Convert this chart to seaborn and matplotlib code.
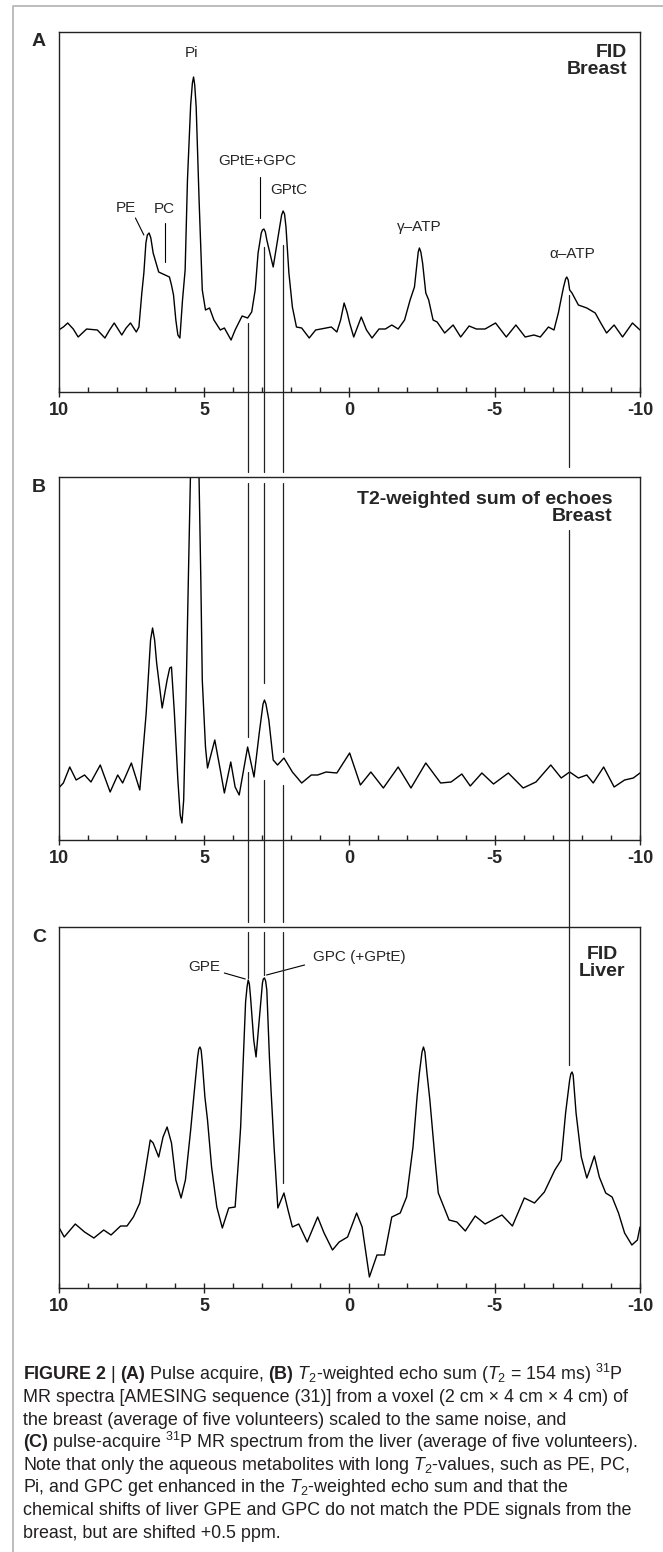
import matplotlib
matplotlib.use("Agg")
import matplotlib.pyplot as plt
import matplotlib.transforms as mtransforms
from matplotlib.ticker import MultipleLocator
import seaborn as sns

# --- spectra (ppm, intensity above baseline) ---
ppm_a = [10.0, 9.84, 9.69, 9.50, 9.33, 9.04, 8.67, 8.41, 8.25, 8.09, 7.83, 7.68, 7.53, 7.33,
         7.24, 7.14, 7.07, 7.00, 6.95, 6.89, 6.83, 6.75, 6.56, 6.34, 6.19, 6.12,
         6.05, 5.97, 5.90, 5.83, 5.74, 5.65, 5.57, 5.46, 5.40, 5.36, 5.32, 5.27,
         5.17, 5.06, 4.95, 4.81, 4.66, 4.44, 4.30, 4.07, 3.93, 3.69,
         3.50, 3.36, 3.24, 3.14, 3.03, 2.99, 2.94, 2.89, 2.84, 2.62, 2.47, 2.33, 2.28,
         2.23, 2.18, 2.08, 1.96, 1.82, 1.64, 1.38, 1.16, 0.80, 0.62, 0.43,
         0.30, 0.18, 0.08, -0.01, -0.15, -0.41, -0.59, -0.78, -1.02, -1.24, -1.46, -1.68,
         -1.90, -2.09, -2.24, -2.34, -2.37, -2.41, -2.46, -2.52, -2.63, -2.73, -2.88, -3.02,
         -3.28, -3.57, -3.83, -4.12, -4.37, -4.67, -5.03, -5.40, -5.73, -6.05,
         -6.35, -6.57, -6.85, -7.04, -7.19, -7.30, -7.37, -7.44, -7.48, -7.53, -7.58, -7.66,
         -7.88, -8.17, -8.46, -8.65, -8.85, -9.11, -9.40, -9.74, -10.0]
int_a = [0, 3, 7, 1, -7, 1, 0, -8, 0, 7, -5, 2, 7, -2,
         3, 37, 57, 87, 95, 97, 92, 77, 58, 55, 53, 45,
         35, 10, -5, -8, 30, 60, 150, 225, 247, 253, 245, 223,
         130, 40, 20, 22, 10, 0, 2, -10, 0, 14,
         12, 18, 40, 77, 97, 100, 101, 98, 90, 63, 90, 115, 119,
         116, 103, 57, 23, 3, 2, -8, 0, 2, 3, -2,
         10, 27, 18, 7, -7, 13, 0, -8, 1, 1, 5, 1,
         10, 30, 43, 70, 78, 82, 78, 67, 37, 30, 10, 8,
         -3, 5, -7, 4, 1, 1, 7, -7, 5, -7,
         -5, -7, 3, 0, 17, 33, 43, 51, 53, 50, 40, 37,
         25, 22, 17, 7, -3, 5, -7, 7, 0]

ppm_b = [10.0, 9.84, 9.62, 9.40, 9.11, 8.89, 8.57, 8.23, 7.97, 7.80,
         7.50, 7.21, 6.99, 6.84, 6.77, 6.70, 6.63, 6.44, 6.27, 6.18, 6.12, 6.02, 5.90,
         5.82, 5.76, 5.70, 5.62, 5.54, 5.47, 5.40, 5.32, 5.24, 5.17,
         5.11, 5.06, 4.95, 4.88, 4.63, 4.44, 4.30, 4.08, 3.93, 3.79,
         3.50, 3.28, 3.10, 2.97, 2.92, 2.87, 2.77, 2.62, 2.47, 2.25, 1.96, 1.64,
         1.31, 1.09, 0.80, 0.43, -0.01, -0.38, -0.74, -1.17, -1.68, -2.12,
         -2.63, -3.14, -3.50, -3.87, -4.16, -4.56, -4.96, -5.47, -5.98, -6.42,
         -6.93, -7.29, -7.58, -7.88, -8.17, -8.39, -8.75, -9.11, -9.47, -9.77, -10.0]
int_b = [-8, -3, 13, 0, 5, -2, 15, -12, 5, -3,
         17, -10, 67, 140, 152, 140, 117, 72, 100, 112, 113, 67, 0,
         -35, -43, -20, 80, 200, 300, 370, 400, 370, 300,
         200, 100, 33, 12, 40, 10, -13, 18, -7, -15,
         33, 3, 47, 76, 80, 76, 60, 20, 15, 22, 8, -3,
         5, 5, 8, 7, 27, -5, 8, -8, 13, -8,
         17, -3, -2, 6, -6, 7, -4, 7, -8, -2,
         15, 2, 8, 2, 5, -3, 13, -7, 0, 2, 7]

ppm_c = [10.0, 9.81, 9.43, 9.11, 8.79, 8.45, 8.20, 7.87, 7.65, 7.43,
         7.21, 7.07, 6.85, 6.75, 6.56, 6.41, 6.27, 6.12, 5.97, 5.79,
         5.64, 5.46, 5.32, 5.22, 5.18, 5.14, 5.10, 5.06, 4.97, 4.88, 4.74, 4.56,
         4.37, 4.15, 3.93, 3.82, 3.74, 3.66, 3.57, 3.52, 3.48, 3.44, 3.40, 3.29,
         3.21, 3.11, 2.99, 2.96, 2.92, 2.88, 2.84, 2.75, 2.70, 2.59, 2.46, 2.25,
         2.11, 1.96, 1.74, 1.45, 1.09, 0.87, 0.58, 0.35, 0.06, -0.25,
         -0.44, -0.69, -0.95, -1.21, -1.46, -1.75, -1.97, -2.19, -2.33, -2.41,
         -2.50, -2.55, -2.60, -2.67, -2.77, -2.96, -3.06, -3.43, -3.70, -3.99, -4.33, -4.67,
         -5.25, -5.61, -6.02, -6.37, -6.71, -7.07, -7.29, -7.44, -7.58, -7.62, -7.66, -7.70,
         -7.80, -7.98, -8.17, -8.27, -8.43, -8.60, -8.82, -9.04, -9.26, -9.47,
         -9.72, -9.91, -10.0]
int_c = [0, -10, 3, -5, -11, -3, -8, 1, 1, 10,
         24, 47, 87, 84, 70, 90, 100, 84, 47, 29,
         47, 97, 140, 170, 178, 180, 177, 165, 130, 107, 60, 20,
         -1, 19, 20, 64, 100, 160, 225, 240, 247, 243, 230, 187,
         170, 204, 244, 248, 249, 246, 237, 170, 140, 80, 19, 34,
         17, 0, 3, -15, 10, -6, -23, -15, -10, 14,
         0, -50, -28, -28, 10, 14, 30, 80, 130, 154,
         175, 180, 175, 154, 127, 64, 34, 7, 5, -4, 11, 3,
         12, 1, 29, 24, 35, 57, 67, 114, 147, 153, 155, 152,
         114, 70, 49, 57, 71, 50, 34, 30, 14, -6,
         -18, -13, 0]

tick_vals = [10, 5, 0, -5, -10]
tick_labels = ["10", "5", "0", "-5", "-10"]

# peak labels: (text, ppm, intensity)
labels_a = [("Pi", 5.44, 277), ("PE", 7.69, 122), ("PC", 6.37, 121),
            ("GPtE+GPC", 3.17, 169), ("GPtC", 2.10, 140),
            ("\u03b3\u2013ATP", -2.41, 103), ("\u03b1\u2013ATP", -7.67, 76)]
labels_c = [("GPE", 4.99, 260), ("GPC (+GPtE)", -0.34, 270)]

# guide lines across the panels (ppm)
guide_ppm = [3.50, 2.93, 2.30, -7.55]

caption = [
    r"$\mathbf{FIGURE\ 2}$ | $\mathbf{(A)}$ Pulse acquire, $\mathbf{(B)}$ $\mathit{T}_2$-weighted echo sum ($\mathit{T}_2$ = 154 ms) $^{31}$P",
    "MR spectra [AMESING sequence (31)] from a voxel (2 cm \u00d7 4 cm \u00d7 4 cm) of",
    "the breast (average of five volunteers) scaled to the same noise, and",
    r"$\mathbf{(C)}$ pulse-acquire $^{31}$P MR spectrum from the liver (average of five volunteers).",
    r"Note that only the aqueous metabolites with long $\mathit{T}_2$-values, such as PE, PC,",
    r"Pi, and GPC get enhanced in the $\mathit{T}_2$-weighted echo sum and that the",
    "chemical shifts of liver GPE and GPC do not match the PDE signals from the",
    "breast, but are shifted +0.5 ppm.",
]

sns.set_theme(style="white")
plt.rcParams["font.family"] = ["Liberation Sans", "DejaVu Sans"]
plt.rcParams["mathtext.fontset"] = "custom"
plt.rcParams["mathtext.rm"] = "Liberation Sans"
plt.rcParams["mathtext.it"] = "Liberation Sans:italic"
plt.rcParams["mathtext.bf"] = "Liberation Sans:bold"

W, H = 663, 1552
fig = plt.figure(figsize=(W / 100, H / 100), dpi=100)
fig.patch.set_facecolor("white")


def px_axes(left, top, right, bottom):
    return fig.add_axes([left / W, 1 - bottom / H, (right - left) / W, (bottom - top) / H])


panels = [
    ("A", 32, 392, ppm_a, int_a, (-62, 298)),
    ("B", 477, 840, ppm_b, int_b, (-60, 303)),
    ("C", 927, 1288, ppm_c, int_c, (-61, 300)),
]

axes = []
for letter, top, bottom, xs, ys, ylim in panels:
    ax = px_axes(58.7, top, 640, bottom)
    sns.lineplot(x=xs, y=ys, ax=ax, color="black", lw=1.0, sort=False, estimator=None)
    ax.set_xlim(10, -10)
    ax.set_ylim(*ylim)
    ax.set_yticks([])
    ax.set_xticks(tick_vals, tick_labels)
    ax.xaxis.set_minor_locator(MultipleLocator(1))
    ax.tick_params(axis="x", which="major", direction="inout", length=7, width=1.0,
                   color="#222222", pad=4, bottom=True)
    ax.tick_params(axis="x", which="minor", direction="in", length=3.6, width=1.0,
                   color="#222222", bottom=True)
    for lbl in ax.get_xticklabels():
        lbl.set_fontfamily(["Liberation Sans Narrow", "Liberation Sans"])
        lbl.set_fontweight("bold")
        lbl.set_fontsize(13)
    for sp in ax.spines.values():
        sp.set_visible(True)
        sp.set_color("#222222")
        sp.set_linewidth(1.0)
    ax.set_xlabel("")
    ax.set_ylabel("")
    fig.text(39 / W, 1 - (top + 10) / H, letter, ha="center", va="center",
             fontsize=14, fontweight="bold")
    axes.append(ax)

ax_a, ax_b, ax_c = axes

# panel titles
ax_a.text(-9.56, 269, "FID\nBreast", ha="right", va="center", fontsize=14,
          fontweight="bold", linespacing=1.05)
ax_b.text(-9.04, 272, "T2-weighted sum of echoes\nBreast", ha="right", va="center",
          fontsize=14, fontweight="bold", linespacing=1.05, multialignment="right")
ax_c.text(-8.70, 264, "FID\nLiver", ha="center", va="center", fontsize=14,
          fontweight="bold", linespacing=1.05)

for txt, x, y in labels_a:
    ax_a.text(x, y, txt, ha="center", va="center", fontsize=11)
for txt, x, y in labels_c:
    ax_c.text(x, y, txt, ha="center", va="center", fontsize=11)

# leader lines
ax_a.plot([7.36, 7.07], [112, 95], color="black", lw=0.8)
ax_a.plot([6.33, 6.33], [107, 68], color="black", lw=0.8)
ax_a.plot([3.06, 3.06], [153, 112], color="black", lw=0.8)
ax_c.plot([4.30, 3.58], [254, 248], color="black", lw=0.8)
ax_c.plot([1.54, 2.85], [262, 252], color="black", lw=0.8)

# overlay in pixel coordinates
over = fig.add_axes([0, 0, 1, 1])
over.set_xlim(0, W)
over.set_ylim(H, 0)
over.axis("off")
over.patch.set_visible(False)

trans = mtransforms.blended_transform_factory(ax_a.transData, over.transData)
guide_segments = [
    [(323, 472), (483, 737), (772, 922), (932, 978)],
    [(247, 472), (483, 683), (780, 922), (932, 975)],
    [(245, 472), (483, 752), (785, 922), (932, 1183)],
    [(295, 467), (530, 1065)],
]
for p, segs in zip(guide_ppm, guide_segments):
    for y0, y1 in segs:
        over.plot([p, p], [y0, y1], color="#222222", lw=0.9, transform=trans, clip_on=False)

# outer grey frame
over.plot([12.7, 12.7, 700], [1600, 6, 6], color="#b8b8b8", lw=1.3, clip_on=False)

for i, line in enumerate(caption):
    over.text(23, 1380 + 22.5 * i, line, ha="left", va="baseline", fontsize=12.9,
              color="#231f20")

fig.savefig("out.png", dpi=100, facecolor="white")
